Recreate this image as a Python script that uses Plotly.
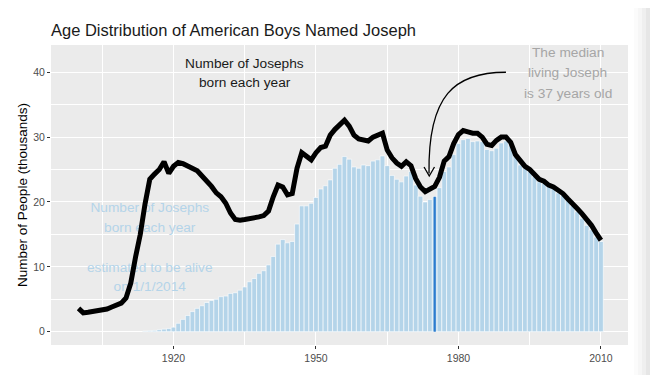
import plotly.graph_objects as go

# ---------------- data (thousands of people) ----------------
years = list(range(1900, 2011))
born = [3.6, 2.9, 3.0, 3.1, 3.2, 3.3, 3.5, 3.8, 4.1, 4.4,
        5.2, 7.5, 11.5, 15.0, 19.7, 23.5, 24.3, 25.0, 26.2, 24.4,
        25.5, 26.1, 25.9, 25.6, 25.3, 24.8, 24.0, 23.3, 22.4, 21.4,
        20.8, 19.8, 18.3, 17.3, 17.2, 17.3, 17.4, 17.6, 17.7, 17.9,
        18.6, 20.8, 22.6, 22.3, 21.1, 21.3, 25.2, 27.6, 27.0, 26.5,
        27.6, 28.4, 28.6, 30.3, 31.2, 31.8, 32.6, 31.7, 30.3, 29.7,
        29.6, 29.4, 30.0, 30.3, 30.6, 28.0, 26.8, 26.0, 25.5, 26.2,
        25.6, 23.6, 22.3, 21.6, 22.0, 22.4, 23.8, 26.3, 27.0, 29.0,
        30.4, 31.0, 30.8, 30.6, 30.6, 30.0, 28.9, 28.7, 29.5, 30.0,
        30.0, 29.2, 27.3, 26.3, 25.5, 25.0, 24.2, 23.5, 23.2, 22.6,
        22.3, 21.9, 21.3, 20.5, 19.6, 19.0, 18.2, 17.4, 16.4, 15.2,
        14.1]

alive_years = list(range(1914, 2011))
alive = [0.1, 0.15, 0.2, 0.3, 0.4, 0.5,
         0.7, 1.3, 1.9, 2.5, 3.1, 3.6, 4.0, 4.5, 4.8, 5.0,
         5.4, 5.5, 5.9, 6.0, 6.4, 6.9, 7.7, 8.2, 9.0, 9.4,
         10.3, 11.6, 13.5, 14.2, 13.7, 13.9, 16.6, 19.4, 19.4, 19.8,
         20.7, 22.0, 22.5, 23.4, 25.2, 25.8, 27.0, 26.6, 25.4, 25.2,
         25.7, 25.6, 26.3, 26.5, 27.1, 25.6, 24.1, 23.5, 23.1, 24.0,
         24.7, 22.6, 20.9, 20.0, 20.4, 20.8, 22.2, 24.7, 25.4, 27.3,
         29.0, 29.6, 29.8, 29.3, 29.4, 29.3, 28.1, 27.9, 28.3, 29.1,
         29.4, 28.8, 27.0, 25.7, 25.2, 24.7, 23.9, 23.1, 22.9, 22.6,
         22.1, 21.4, 21.1, 20.3, 19.4, 18.5, 17.5, 16.4, 15.7, 14.6,
         13.9]

median_year = 1975
median_value = alive[alive_years.index(median_year)]

x_ticks = [1920, 1950, 1980, 2010]
x_minor = [1905, 1935, 1965, 1995]
y_ticks = [0, 10, 20, 30, 40]
y_minor = [5, 15, 25, 35]

# label text / anchor positions (data units)
blue_lines = ["Number of Josephs", "born each year", "estimated to be alive", "on 1/1/2014"]
blue_x = [1915, 1915, 1915, 1915]
blue_y = [19.0, 15.9, 9.8, 6.8]

# ---------------- style ----------------
FONT = "Liberation Sans, Arial, Helvetica, sans-serif"
BAR_BLUE = "#B4D4E9"
MEDIAN_BLUE = "#2B7BCF"
PANEL = "#EBEBEB"
OFF = 8  # page body margin offset

fig = go.Figure()

fig.add_trace(go.Bar(
    x=alive_years, y=alive, width=1,
    marker=dict(color=BAR_BLUE, line=dict(color="white", width=0.6)),
    hoverinfo="x+y", showlegend=False))

fig.add_trace(go.Bar(
    x=[median_year], y=[median_value], width=0.45,
    marker=dict(color=MEDIAN_BLUE, line=dict(width=0)),
    hoverinfo="x+y", showlegend=False))

# blue legend-like text sits under the black line
fig.add_trace(go.Scatter(
    x=blue_x, y=blue_y, text=blue_lines, mode="text",
    textposition="middle center",
    textfont=dict(family=FONT, size=13.7, color=BAR_BLUE),
    hoverinfo="skip", showlegend=False))

fig.add_trace(go.Scatter(
    x=years, y=born, mode="lines",
    line=dict(color="black", width=5),
    hoverinfo="x+y", showlegend=False))

# ---------------- annotations ----------------
ann = []
def txt(x, y, s, color, size=13.7):
    ann.append(dict(x=x, y=y, xref="x", yref="y", text=s, showarrow=False,
                    xanchor="center", yanchor="middle",
                    font=dict(family=FONT, size=size, color=color)))

txt(1935, 41.4, "Number of Josephs", "#1A1A1A")
txt(1935, 38.4, "born each year", "#1A1A1A")

txt(2003, 43.0, "The median", "#A6A6A6")
txt(2003, 39.9, "living Joseph", "#A6A6A6")
txt(2003, 36.8, "is 37 years old", "#A6A6A6")

shapes = [
    # curved arrow
    dict(type="path", xref="x", yref="y",
         path="M 1990.0,40.0 C 1979.2,40.0 1973.55,36.5 1973.8,24.4",
         line=dict(color="black", width=1.3)),
    dict(type="path", xref="x", yref="y",
         path="M 1972.75,25.4 L 1973.85,24.0 L 1974.95,25.4",
         line=dict(color="black", width=1.3)),
]

# window-edge shadow on the right of the screenshot
def px2paper(px):
    return (px - 51) / 577.0
shade = [(634, 638, "#FBFBFB"), (638, 642, "#F6F6F6"), (642, 646, "#EFEFEF"),
         (646, 650, "#E6E6E6"), (650, 651.5, "#5E3A3A"), (651.5, 660, "#E2E2E2")]
for a, b, c in shade:
    shapes.append(dict(type="rect", xref="paper", yref="paper",
                       x0=px2paper(a), x1=px2paper(b), y0=-0.3, y1=1.3,
                       fillcolor=c, line=dict(width=0), layer="above"))

fig.update_layout(
    width=658, height=375,
    margin=dict(l=51 - OFF, r=30 + OFF, t=45 - OFF, b=30 + OFF),
    paper_bgcolor="white", plot_bgcolor=PANEL,
    barmode="overlay",
    title=dict(text="Age Distribution of American Boys Named Joseph",
               x=(51 - OFF) / 658, xanchor="left", xref="container",
               y=1 - (30 - OFF) / 375, yanchor="middle", yref="container",
               font=dict(family=FONT, size=16.5, color="#1A1A1A")),
    annotations=ann, shapes=shapes,
    font=dict(family=FONT),
)

fig.update_xaxes(
    range=[1894.2, 2015.7], tickvals=x_ticks, ticktext=[str(v) for v in x_ticks],
    showgrid=True, gridcolor="white", gridwidth=1.1, zeroline=False,
    ticks="outside", ticklen=3, tickcolor="#333333", tickwidth=1,
    tickfont=dict(family=FONT, size=10.5, color="#4D4D4D"),
    minor=dict(tickvals=x_minor, showgrid=True, gridcolor="white", gridwidth=0.5, ticks=""),
    showline=False,
)
fig.update_yaxes(
    range=[-2.05, 44.2], tickvals=y_ticks,
    showgrid=True, gridcolor="white", gridwidth=1.1, zeroline=False,
    ticks="outside", ticklen=3, tickcolor="#333333", tickwidth=1,
    tickfont=dict(family=FONT, size=10.5, color="#4D4D4D"),
    minor=dict(tickvals=y_minor, showgrid=True, gridcolor="white", gridwidth=0.5, ticks=""),
    title=dict(text="Number of People (thousands)", standoff=2,
               font=dict(family=FONT, size=13.5, color="black")),
    showline=False,
)

fig.write_html("out.html", config={"displayModeBar": False})
